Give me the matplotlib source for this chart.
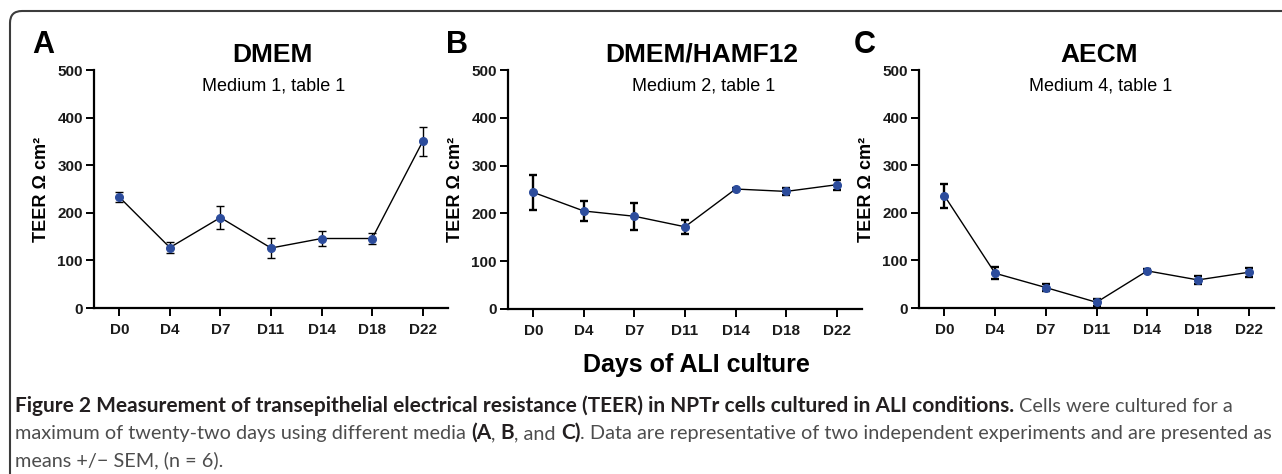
import matplotlib
matplotlib.use("Agg")
import matplotlib.pyplot as plt
from matplotlib.patches import FancyBboxPatch
from matplotlib.transforms import IdentityTransform

# ── Data (mean +/- SEM, TEER in Ohm cm2) ─────────────────────────────
days = ['D0', 'D4', 'D7', 'D11', 'D14', 'D18', 'D22']

dmem_mean = [233, 127, 190, 126, 146, 146, 350]
dmem_sem = [11, 11, 25, 21, 15, 12, 31]

ham_mean = [244, 205, 194, 172, 251, 246, 260]
ham_sem = [37, 20, 28, 15, 2, 7, 10]

aecm_mean = [236, 73, 43, 12, 78, 59, 75]
aecm_sem = [25, 13, 8, 7, 3, 8, 10]

titles = ['DMEM', 'DMEM/HAMF12', 'AECM']
subtitles = ['Medium 1, table 1', 'Medium 2, table 1', 'Medium 4, table 1']
letters = ['A', 'B', 'C']

W, H = 1282, 474
fig = plt.figure(figsize=(W / 100, H / 100), dpi=100)
plt.rcParams['font.family'] = ['Liberation Sans', 'DejaVu Sans']


def fx(px):
    return px / W


def fy(py):
    return 1 - py / H


# axes boxes in pixels: left, right, top, bottom
boxes = [(94, 448, 70, 308), (508, 862, 70, 309), (919, 1274, 70, 308)]
title_x = [272, 702, 1099]
letter_x = [43, 457, 865]
err_lw = [1.0, 1.7, 1.7]

series = [(dmem_mean, dmem_sem), (ham_mean, ham_sem), (aecm_mean, aecm_sem)]

for i, ((l, r, t, b), (mean, sem)) in enumerate(zip(boxes, series)):
    ax = fig.add_axes([fx(l), fy(b), (r - l) / W, (b - t) / H])
    x = list(range(len(days)))
    ax.errorbar(x, mean, yerr=sem, fmt='none', ecolor='black',
                elinewidth=err_lw[i], capsize=3, capthick=err_lw[i], zorder=2)
    ax.plot(x, mean, color='black', lw=1.0, zorder=3)
    ax.plot(x, mean, 'o', color='#2c4c9c', ms=5.5, zorder=4)

    ax.set_xlim(-0.5, 6.5)
    ax.set_ylim(0, 500)
    ax.set_yticks([0, 100, 200, 300, 400, 500])
    ax.set_xticks(x)
    ax.set_xticklabels(days)
    for sp in ['top', 'right']:
        ax.spines[sp].set_visible(False)
    for sp in ['left', 'bottom']:
        ax.spines[sp].set_linewidth(1.6)
    ax.tick_params(axis='both', direction='out', length=6, width=1.4,
                   labelsize=11, pad=2)
    ax.tick_params(axis='x', pad=5)
    for lab in ax.get_xticklabels() + ax.get_yticklabels():
        lab.set_fontweight('bold')
        lab.set_color('#1a1a1a')
    ax.set_ylabel('TEER Ω cm²', fontsize=13, fontweight='bold', va='center')
    ax.yaxis.set_label_coords(-0.147, 0.5)

    fig.text(fx(title_x[i]), fy(55), titles[i], fontsize=19,
             fontweight='bold', ha='center', va='center')
    fig.text(fx(title_x[i] + 2), fy(86), subtitles[i], fontsize=13,
             ha='center', va='center')
    fig.text(fx(letter_x[i]), fy(45), letters[i], fontsize=22,
             fontweight='bold', ha='center', va='center')

fig.text(fx(696), fy(365), 'Days of ALI culture', fontsize=18,
         fontweight='bold', ha='center', va='center')

# rounded frame, open to the right and bottom
frame = FancyBboxPatch((10, -40), 1400, H - 11 + 40,
                       boxstyle='round,pad=0,rounding_size=12',
                       transform=IdentityTransform(), fill=False,
                       ec='#3c3c3c', lw=1.5)
fig.add_artist(frame)

# caption, written piece by piece so bold and regular can mix
renderer = fig.canvas.get_renderer()
cap_font = 'Lato'
size_reg = 14.3
size_bold = 15.0


def piece_width(s, bold):
    w = 'bold' if bold else 'normal'
    sz = size_bold if bold else size_reg
    t1 = fig.text(0, 0, '|' + s + '|', fontsize=sz, family=cap_font, fontweight=w)
    t2 = fig.text(0, 0, '||', fontsize=sz, family=cap_font, fontweight=w)
    d = t1.get_window_extent(renderer).width - t2.get_window_extent(renderer).width
    t1.remove()
    t2.remove()
    return d


def caption_line(pieces, y):
    x = 15
    for s, bold in pieces:
        fig.text(fx(x), fy(y), s, fontsize=size_bold if bold else size_reg,
                 family=cap_font, fontweight='bold' if bold else 'normal',
                 color='#231f20' if bold else '#4d4d4d',
                 ha='left', va='baseline')
        x += piece_width(s, bold)


caption_line([('Figure 2 Measurement of transepithelial electrical resistance (TEER) '
               'in NPTr cells cultured in ALI conditions. ', True),
              ('Cells were cultured for a', False)], 412)
caption_line([('maximum of twenty-two days using different media ', False),
              ('(A', True), (', ', False), ('B', True), (', and ', False),
              ('C)', True),
              ('. Data are representative of two independent experiments and '
               'are presented as', False)], 439)
caption_line([('means +/\u2212 SEM, (n = 6).', False)], 466)

fig.savefig('out.png', dpi=100)
